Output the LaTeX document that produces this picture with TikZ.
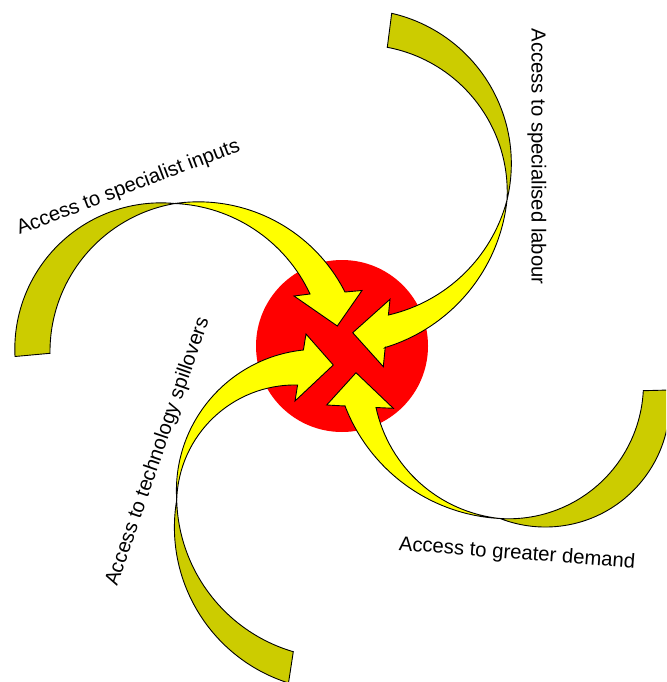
\documentclass[tikz,border=0pt]{standalone}
\usepackage{fontspec}
\setmainfont{Liberation Sans}
\definecolor{olivey}{HTML}{CCCC00}
\definecolor{brightyellow}{HTML}{FFFF00}
\definecolor{hubred}{HTML}{FF0000}
% circle arc through three points given in screen pixels (y downwards)
\newcommand\arcfit[7]{%
 \pgfmathsetmacro\afBX{(#4-#2)/100}%
 \pgfmathsetmacro\afBY{(#3-#5)/100}%
 \pgfmathsetmacro\afCX{(#6-#2)/100}%
 \pgfmathsetmacro\afCY{(#3-#7)/100}%
 \pgfmathsetmacro\afB{(\afBX)*(\afBX)+(\afBY)*(\afBY)}%
 \pgfmathsetmacro\afC{(\afCX)*(\afCX)+(\afCY)*(\afCY)}%
 \pgfmathsetmacro\afD{2*((\afBX)*(\afCY)-(\afBY)*(\afCX))}%
 \pgfmathsetmacro\afUX{((\afCY)*(\afB)-(\afBY)*(\afC))/(\afD)}%
 \pgfmathsetmacro\afUY{((\afBX)*(\afC)-(\afCX)*(\afB))/(\afD)}%
 \pgfmathsetmacro\afR{100*sqrt((\afUX)*(\afUX)+(\afUY)*(\afUY))}%
 \pgfmathsetmacro\afA{atan2(-(\afUY),-(\afUX))}%
 \pgfmathsetmacro\afAB{atan2((\afBY)-(\afUY),(\afBX)-(\afUX))}%
 \pgfmathsetmacro\afAC{atan2((\afCY)-(\afUY),(\afCX)-(\afUX))}%
 \pgfmathsetmacro\afDA{mod((\afAB)-(\afA)+540,360)-180+mod((\afAC)-(\afAB)+540,360)-180}%
 \expandafter\xdef\csname #1s\endcsname{\afA}%
 \expandafter\xdef\csname #1d\endcsname{\afDA}%
 \expandafter\xdef\csname #1r\endcsname{\afR}%
}
\begin{document}
\begin{tikzpicture}[x=1pt,y=1pt,
  backpart/.style={fill=olivey, draw=black, line width=0.9pt, line join=miter},
  frontpart/.style={fill=brightyellow, draw=black, line width=0.9pt, line join=miter},
  lbl/.style={font=\fontsize{20.3}{24}\selectfont, inner sep=0pt, anchor=base west}]
\useasboundingbox (0,0) rectangle (666,-682);
\clip (0,0) rectangle (666,-682);

\node[circle, fill=hubred, minimum size=172pt, inner sep=0pt] (hub) at (342,-346) {};

% arc fits (screen coordinates)
\arcfit{TLbo}{15}{356.5}{60}{243.3}{175}{203.5}
\arcfit{TLbi}{175}{203.5}{86.7}{253.3}{50}{353.3}
\arcfit{TLfo}{175}{203.5}{270}{218.3}{345}{292}
\arcfit{TLfi}{310}{294}{260}{233.3}{175}{203.5}
\arcfit{TRbo}{391.7}{13.3}{486.7}{80}{507}{200}
\arcfit{TRbi}{507}{200}{480}{106.7}{387.3}{47.3}
\arcfit{TRfo}{507}{200}{470}{290}{385.2}{347.5}
\arcfit{TRfi}{388.4}{315}{453.3}{283.3}{507}{200}
\arcfit{BRbo}{669}{390}{626.7}{496.7}{500}{518.5}
\arcfit{BRbi}{500}{518.5}{603.3}{480}{643.3}{390.7}
\arcfit{BRfo}{500}{518.5}{403.3}{483.3}{345}{406}
\arcfit{BRfi}{376}{407.5}{413.3}{476.7}{500}{518.5}
\arcfit{BLbo}{176.7}{500}{203.3}{620}{288.5}{683}
\arcfit{BLbi}{293.3}{651.7}{206.7}{590}{176.7}{500}
\arcfit{BLfo}{176.7}{500}{206.7}{403.3}{303.4}{350}
\arcfit{BLfi}{297.6}{385}{226.7}{406.7}{176.7}{500}

% top-left arrow
\filldraw[backpart] (15,-356.5) arc[start angle=\TLbos, delta angle=\TLbod, radius=\TLbor]
  -- (175,-203.5) arc[start angle=\TLbis, delta angle=\TLbid, radius=\TLbir] -- (50,-353.3) -- cycle;
\filldraw[frontpart] (175,-203.5) arc[start angle=\TLfos, delta angle=\TLfod, radius=\TLfor]
  -- (345,-292) -- (362,-290.5) -- (337.3,-326) -- (294,-296) -- (310,-294)
  arc[start angle=\TLfis, delta angle=\TLfid, radius=\TLfir] -- cycle;

% top-right arrow
\filldraw[backpart] (391.7,-13.3) arc[start angle=\TRbos, delta angle=\TRbod, radius=\TRbor]
  -- (507,-200) arc[start angle=\TRbis, delta angle=\TRbid, radius=\TRbir] -- (387.3,-47.3) -- cycle;
\filldraw[frontpart] (507,-200) arc[start angle=\TRfos, delta angle=\TRfod, radius=\TRfor]
  -- (385.2,-347.5) -- (383.3,-366.7) -- (352.7,-332.7) -- (390,-299.3) -- (388.4,-315)
  arc[start angle=\TRfis, delta angle=\TRfid, radius=\TRfir] -- cycle;

% bottom-right arrow
\filldraw[backpart] (669,-390) arc[start angle=\BRbos, delta angle=\BRbod, radius=\BRbor]
  -- (500,-518.5) arc[start angle=\BRbis, delta angle=\BRbid, radius=\BRbir] -- (643.3,-390.7) -- cycle;
\filldraw[frontpart] (500,-518.5) arc[start angle=\BRfos, delta angle=\BRfod, radius=\BRfor]
  -- (345,-406) -- (326.7,-405) -- (356,-372.7) -- (393.3,-408.3) -- (376,-407.5)
  arc[start angle=\BRfis, delta angle=\BRfid, radius=\BRfir] -- cycle;

% bottom-left arrow
\filldraw[backpart] (176.7,-500) arc[start angle=\BLbos, delta angle=\BLbod, radius=\BLbor]
  -- (288.5,-683) -- (293.3,-651.7) arc[start angle=\BLbis, delta angle=\BLbid, radius=\BLbir] -- cycle;
\filldraw[frontpart] (176.7,-500) arc[start angle=\BLfos, delta angle=\BLfod, radius=\BLfor]
  -- (303.4,-350) -- (306,-334) -- (333.3,-365) -- (295,-401) -- (297.6,-385)
  arc[start angle=\BLfis, delta angle=\BLfid, radius=\BLfir] -- cycle;

% labels
\node[lbl, rotate=20.9] (inputs) at (19.5,-235) {Access to specialist inputs};
\node[lbl, rotate=-90] (labour) at (531.7,-28.3) {Access to specialised labour};
\node[lbl, rotate=71] (spill) at (117,-587) {Access to technology spillovers};
\node[lbl, rotate=-4.5] (demand) at (398.3,-550) {Access to greater demand};
\end{tikzpicture}
\end{document}
